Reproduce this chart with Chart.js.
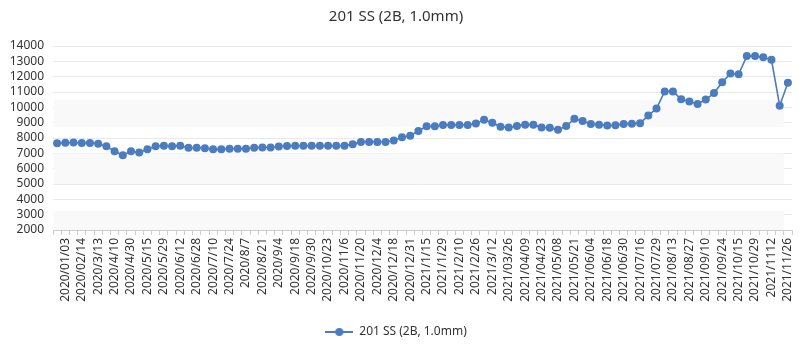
<!DOCTYPE html>
<html>
<head>
<meta charset="utf-8">
<script src="https://cdn.jsdelivr.net/npm/chart.js@4/dist/chart.umd.min.js"></script>
<style>
  html, body { margin: 0; padding: 0; background: #ffffff; }
  #wrap { width: 807px; height: 360px; position: relative; }
</style>
</head>
<body>
<div id="wrap"><canvas id="c" width="807" height="360"></canvas></div>
<script>
// ---- data ----
const chartTitle = '201 SS (2B, 1.0mm)';
const seriesName = '201 SS (2B, 1.0mm)';

// tick labels visible on the axis (every second category, starting with the 2nd one)
const visibleDateLabels = [
  '2020/01/03', '2020/02/14', '2020/3/13', '2020/4/10', '2020/4/30', '2020/5/15',
  '2020/5/29', '2020/6/12', '2020/6/28', '2020/7/10', '2020/7/24', '2020/8/7',
  '2020/8/21', '2020/9/4', '2020/9/18', '2020/9/30', '2020/10/23', '2020/11/6',
  '2020/11/20', '2020/12/4', '2020/12/18', '2020/12/31', '2021/1/15', '2021/1/29',
  '2021/2/10', '2021/2/26', '2021/3/12', '2021/03/26', '2021/04/09', '2021/04/23',
  '2021/05/08', '2021/05/21', '2021/06/04', '2021/06/18', '2021/06/30', '2021/07/16',
  '2021/07/29', '2021/08/13', '2021/08/27', '2021/09/10', '2021/09/24', '2021/10/15',
  '2021/10/29', '2021/1112', '2021/11/26'
];

const priceValues = [
  7650, 7690, 7710, 7670, 7670, 7620, 7460, 7130, 6870, 7130,
  7050, 7260, 7460, 7500, 7470, 7490, 7360, 7360, 7330, 7260,
  7260, 7300, 7300, 7300, 7360, 7380, 7380, 7440, 7480, 7490,
  7490, 7490, 7490, 7490, 7490, 7490, 7600, 7740, 7740, 7740,
  7740, 7840, 8050, 8150, 8460, 8760, 8760, 8850, 8850, 8850,
  8850, 8950, 9190, 9000, 8740, 8680, 8790, 8870, 8870, 8680,
  8670, 8530, 8780, 9250, 9110, 8910, 8870, 8820, 8830, 8920,
  8930, 8970, 9460, 9920, 11040, 11040, 10530, 10380, 10220, 10510,
  10930, 11640, 12200, 12160, 13340, 13340, 13270, 13100, 10110, 11600
];

const yTickMin = 2000;
const yTickMax = 14000;
const yTickStep = 1000;

// light background bands (value ranges on the y axis)
const bandRanges = [[2000, 3250], [5000, 7000], [8700, 10500]];

// ---- build category list: unlabeled categories get empty text ----
const categories = priceValues.map((v, i) => (i % 2 === 1 ? visibleDateLabels[(i - 1) / 2] : ''));

const LINE_COLOR = '#4a7cbf';
const FONT = '"Noto Sans", "Liberation Sans", sans-serif';

// legend icon: line with a dot in the middle
function makeLegendIcon() {
  const cv = document.createElement('canvas');
  cv.width = 28; cv.height = 10;
  const g = cv.getContext('2d');
  g.strokeStyle = LINE_COLOR; g.lineWidth = 2;
  g.beginPath(); g.moveTo(0, 5); g.lineTo(28, 5); g.stroke();
  g.fillStyle = LINE_COLOR;
  g.beginPath(); g.arc(14, 5, 4, 0, Math.PI * 2); g.fill();
  return cv;
}

const bandPlugin = {
  id: 'bands',
  beforeDatasetsDraw(chart, args, opts) {
    const { ctx, chartArea } = chart;
    const y = chart.scales.y;
    const x = chart.scales.x;
    const right = x.getPixelForValue(categories.length - 1) - (x.getPixelForValue(1) - x.getPixelForValue(0)) / 2;
    ctx.save();
    ctx.fillStyle = opts.color;
    for (const [a, b] of opts.ranges) {
      const top = y.getPixelForValue(b);
      const bot = y.getPixelForValue(a);
      ctx.fillRect(chartArea.left + 1, top, right - chartArea.left - 1, bot - top);
    }
    ctx.restore();
  }
};

const ctx = document.getElementById('c').getContext('2d');
new Chart(ctx, {
  type: 'line',
  data: {
    labels: categories,
    datasets: [{
      label: seriesName,
      data: priceValues,
      borderColor: LINE_COLOR,
      backgroundColor: LINE_COLOR,
      borderWidth: 1.6,
      pointRadius: 4,
      pointBorderWidth: 0,
      pointBackgroundColor: LINE_COLOR,
      tension: 0,
      fill: false
    }]
  },
  plugins: [bandPlugin],
  options: {
    responsive: false,
    animation: false,
    devicePixelRatio: 1,
    layout: { padding: { left: 0, right: 15, top: 0, bottom: 12 } },
    plugins: {
      bands: { ranges: bandRanges, color: '#f9f9f9' },
      title: {
        display: true,
        text: chartTitle,
        color: '#333333',
        font: { family: FONT, size: 15, weight: 'normal' },
        padding: { top: 8, bottom: 20 }
      },
      legend: {
        display: true,
        position: 'bottom',
        labels: {
          usePointStyle: true,
          pointStyle: makeLegendIcon(),
          pointStyleWidth: 28,
          boxHeight: 10,
          color: '#333333',
          font: { family: FONT, size: 12 },
          padding: 6
        }
      },
      tooltip: { enabled: false }
    },
    scales: {
      x: {
        type: 'category',
        offset: true,
        grid: {
          offset: true,
          drawOnChartArea: false,
          drawTicks: true,
          tickLength: 5,
          color: '#cccccc'
        },
        border: { display: true, color: '#cccccc' },
        ticks: {
          autoSkip: false,
          maxRotation: 90,
          minRotation: 90,
          padding: 3,
          color: '#333333',
          font: { family: FONT, size: 12 }
        },
        afterFit(scale) { scale.height = 90; }
      },
      y: {
        type: 'linear',
        min: yTickMin,
        max: yTickMax,
        grid: { color: '#e9e9e9', drawTicks: false },
        border: { display: false },
        ticks: {
          stepSize: yTickStep,
          autoSkip: false,
          padding: 9,
          color: '#333333',
          font: { family: FONT, size: 12 },
          callback: (v) => String(v)
        },
        afterFit(scale) { scale.width = 53; }
      }
    }
  }
});
</script>
</body>
</html>
